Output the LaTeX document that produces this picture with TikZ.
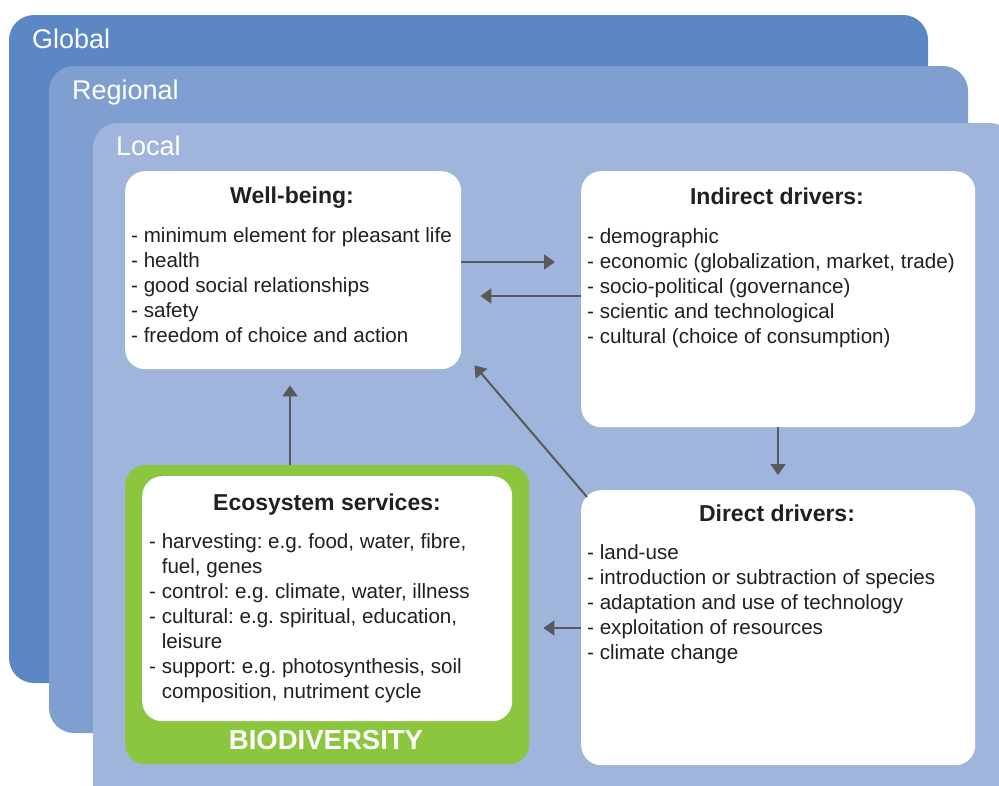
\documentclass[tikz,border=0pt]{standalone}
\usepackage{fontspec}
\setmainfont{Liberation Sans}
\frenchspacing
\usetikzlibrary{arrows.meta,calc}
\definecolor{cglobal}{HTML}{5B87C5}
\definecolor{cregional}{HTML}{7E9FD0}
\definecolor{clocal}{HTML}{A0B5DB}
\definecolor{cgreen}{HTML}{8CC63F}
\definecolor{ctext}{HTML}{231F20}
\definecolor{carrow}{HTML}{58595B}
\tikzset{
  layer/.style={rounded corners=25pt},
  layerlabel/.style={anchor=base west, inner sep=0pt, text=white, font=\fontsize{27}{31}\selectfont},
  whitebox/.style={draw=none, fill=white, rounded corners=20pt, anchor=north west, inner sep=0pt},
  boxtitle/.style={anchor=base, inner sep=0pt, text=ctext, font=\bfseries\fontsize{23}{27}\selectfont},
  boxlist/.style={anchor=north west, inner sep=0pt, text=ctext, align=left, font=\fontsize{20.6}{25}\selectfont},
  arr/.style={draw=carrow, line width=2pt, -{Triangle[length=11pt,width=15pt]}}
}
\begin{document}
\begin{tikzpicture}[x=1pt,y=-1pt]
\useasboundingbox (0,0) rectangle (999,785);
\clip (0,0) rectangle (999,785);
% layers
\fill[cglobal, layer] (9,15) rectangle (928,683);
\node[layerlabel] (lglobal) at (32,48) {Global};
\fill[cregional, layer] (49,66) rectangle (968,733);
\node[layerlabel] (lregional) at (72,99) {Regional};
\fill[clocal, layer] (93,123) rectangle (1015,810);
\node[layerlabel] (llocal) at (116,155) {Local};
% boxes
\node[whitebox, minimum width=336pt, minimum height=198pt] (wb) at (125,171) {};
\node[whitebox, minimum width=394pt, minimum height=256pt] (ind) at (581,171) {};
\node[whitebox, minimum width=394pt, minimum height=275pt] (dd) at (581,490) {};
\node[whitebox, fill=cgreen, minimum width=404pt, minimum height=299pt] (bio) at (125,465) {};
\node[whitebox, minimum width=370pt, minimum height=245pt] (eco) at (142,476) {};
% texts
\node[boxtitle] (wbt) at (292,203) {Well-being:};
\node[boxlist] (wbl) at (131,227) {- minimum element for pleasant life\\- health\\- good social relationships\\- safety\\- freedom of choice and action};
\node[boxtitle] (indt) at (777,204) {Indirect drivers:};
\node[boxlist] (indl) at (587,228) {- demographic\\- economic (globalization, market, trade)\\- socio-political (governance)\\- scientic and technological\\- cultural (choice of consumption)};
\node[boxtitle] (ddt) at (777,521) {Direct drivers:};
\node[boxlist] (ddl) at (587,544) {- land-use\\- introduction or subtraction of species\\- adaptation and use of technology\\- exploitation of resources\\- climate change};
\node[boxtitle] (ecot) at (327,510) {Ecosystem services:};
\node[boxlist] (ecol) at (149,533) {- harvesting: e.g. food, water, fibre,\\\phantom{- }fuel, genes\\- control: e.g. climate, water, illness\\- cultural: e.g. spiritual, education,\\\phantom{- }leisure\\- support: e.g. photosynthesis, soil\\\phantom{- }composition, nutriment cycle};
\node[anchor=base, inner sep=0pt, text=white, font=\bfseries\fontsize{27.5}{31}\selectfont] (biot) at (326,749) {BIODIVERSITY};
% arrows
\draw[arr, shorten >=26pt] (wb.east |- 0,262) -- (ind.west |- 0,262);
\draw[arr, shorten >=19pt] (ind.west |- 0,296) -- (wb.east |- 0,296);
\draw[arr, shorten >=15pt] (ind.south -| 778,0) -- (dd.north -| 778,0);
\draw[arr] ([shift={(6,7)}]dd.north west) -- ([shift={(13,-4)}]wb.south east);
\draw[arr, shorten >=16pt] (bio.north -| 290,0) -- (wb.south -| 290,0);
\draw[arr, shorten >=14pt] (dd.west |- 0,628) -- (bio.east |- 0,628);
\end{tikzpicture}
\end{document}
